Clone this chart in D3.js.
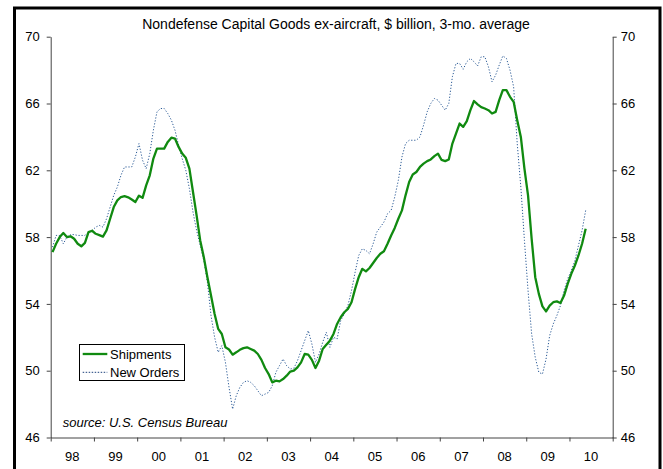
<!DOCTYPE html>
<html>
<head>
<meta charset="utf-8">
<script src="https://cdn.jsdelivr.net/npm/d3@7"></script>
<style>
  body { margin: 0; background: #fff; }
  svg { display: block; font-family: "Liberation Sans", Arial, sans-serif; }
</style>
</head>
<body>
<svg id="chart" width="663" height="469"></svg>
<script>
"use strict";

//Monthly series, Jan 1998 .. May 2010 ($ billion, 3-mo. average)
var startYear = 1998;

var shipments = [
  57.1, 57.6, 58.0, 58.24, 58.0, 58.05, 57.9, 57.6, 57.45, 57.65, 58.3, 58.38,
  58.2, 58.12, 58.03, 58.4, 59.1, 59.8, 60.2, 60.4, 60.45, 60.38, 60.25, 60.1,
  60.48, 60.35, 61.1, 61.7, 62.7, 63.3, 63.3, 63.3, 63.7, 63.95, 63.9, 63.4,
  63.0, 62.75, 62.1, 60.7, 59.3, 57.8, 56.8, 55.6, 54.5, 53.4, 52.5, 52.2,
  51.4, 51.27, 50.96, 51.1, 51.25, 51.35, 51.4, 51.3, 51.2, 51.0, 50.65, 50.16,
  49.8, 49.3, 49.4, 49.36, 49.5, 49.7, 49.95, 50.0, 50.2, 50.5, 51.0, 50.96,
  50.65, 50.16, 50.6, 51.3, 51.55, 51.8, 52.2, 52.8, 53.2, 53.5, 53.7, 54.1,
  54.9, 55.6, 56.1, 55.95, 56.15, 56.45, 56.75, 57.0, 57.15, 57.6, 58.1, 58.55,
  59.1, 59.6, 60.5, 61.3, 61.75, 61.9, 62.2, 62.4, 62.55, 62.65, 62.85, 63.0,
  62.62, 62.55, 62.65, 63.6, 64.2, 64.8, 64.6, 64.95, 65.6, 66.15, 65.95, 65.78,
  65.7, 65.6, 65.4, 65.5, 66.2, 66.8, 66.8, 66.4, 66.1, 65.0, 64.0, 62.1,
  60.5, 57.9, 55.6, 54.6, 53.85, 53.55, 53.9, 54.1, 54.15, 54.05, 54.5, 55.2,
  55.8, 56.3, 56.9, 57.6, 58.5
];

var newOrders = [
  57.4, 58.1, 58.1, 57.6, 58.0, 58.15, 58.15, 58.1, 58.1, 58.1, 58.3, 58.4,
  58.6, 58.7, 58.6, 59.1, 59.8, 60.5, 61.0, 61.7, 62.2, 62.2, 62.2, 62.8,
  63.6, 62.6, 62.1, 63.0, 64.4, 65.5, 65.7, 65.7, 65.4, 65.0, 64.4, 63.5,
  62.7, 62.0, 60.9, 59.5, 58.4, 57.5, 56.6, 55.3, 53.3, 52.0, 51.1, 51.5,
  50.5, 49.0, 47.7, 48.5, 49.0, 49.3, 49.4, 49.3, 49.1, 48.8, 48.5, 48.6,
  48.7, 49.1, 49.9, 50.3, 50.7, 50.3, 50.1, 50.15, 50.6, 51.2, 51.8, 52.4,
  51.6, 50.5, 51.0, 51.7, 52.3, 51.4, 52.0, 51.9, 53.0, 53.4, 53.9, 54.8,
  55.9, 56.9, 57.3, 57.2, 57.0, 57.6, 58.3, 58.6, 58.9, 59.4, 59.6, 60.4,
  61.4, 62.8, 63.6, 63.8, 63.8, 63.8, 64.0, 64.7, 65.5, 66.0, 66.3, 66.2,
  65.9, 65.6, 66.0, 67.6, 68.4, 68.4, 68.05, 68.5, 68.7, 68.5, 68.25, 68.8,
  68.8, 68.2, 67.3, 67.7, 68.3, 68.85, 68.7, 68.0, 67.0, 63.6, 61.0, 57.8,
  54.8, 52.2, 50.8, 49.9, 49.8, 50.7, 52.1, 52.8, 53.3, 53.9, 54.8, 55.5,
  56.0, 56.6, 57.5, 58.4, 59.6
];

var yearTicks = d3.range(1998, 2012);
var yearLabels = ["98", "99", "00", "01", "02", "03", "04", "05", "06", "07", "08", "09", "10"];
var valueTicks = [46, 50, 54, 58, 62, 66, 70];

var svg = d3.select("#chart");

//Plot area edges
var plotLeft = 50.7, plotRight = 612.7, plotTop = 36.7, plotBottom = 437.5;

var x = d3.scaleLinear().domain([1998, 2011]).range([plotLeft, plotRight]);
var y = d3.scaleLinear().domain([46, 70]).range([plotBottom, plotTop]);

//Month index -> mid-month position
function monthDate(i) { return startYear + (i + 0.5) / 12; }

//Outer frame
svg.append("rect")
  .attr("x", 14.5).attr("y", 8)
  .attr("width", 645.5).attr("height", 480)
  .attr("fill", "none")
  .attr("stroke", "#000")
  .attr("stroke-width", 3);

//Title
svg.append("text")
  .attr("x", 336).attr("y", 29)
  .attr("text-anchor", "middle")
  .attr("font-size", "14px")
  .attr("fill", "#000")
  .text("Nondefense Capital Goods ex-aircraft, $ billion, 3-mo. average");

//Axes
function styleAxis(g) {
  g.select(".domain").attr("stroke", "#444");
  g.selectAll(".tick line").attr("stroke", "#444");
  g.selectAll(".tick text").attr("fill", "#000").attr("font-size", "13px")
    .attr("font-family", "Liberation Sans, Arial, sans-serif");
}

svg.append("g")
  .attr("transform", "translate(" + plotLeft + ",0)")
  .call(d3.axisLeft(y).tickValues(valueTicks).tickSize(4).tickPadding(7).tickSizeOuter(0))
  .call(styleAxis);

svg.append("g")
  .attr("transform", "translate(" + plotRight + ",0)")
  .call(d3.axisRight(y).tickValues(valueTicks).tickSize(4).tickPadding(4).tickSizeOuter(0))
  .call(styleAxis);

svg.append("g")
  .attr("transform", "translate(0," + plotBottom + ")")
  .call(d3.axisBottom(x).tickValues(yearTicks).tickSize(4).tickFormat("").tickSizeOuter(0))
  .call(styleAxis);

svg.append("g").selectAll("text")
  .data(yearLabels)
  .enter().append("text")
  .attr("x", function(d, i) { return x(1998 + i + 0.5); })
  .attr("y", 461)
  .attr("text-anchor", "middle")
  .attr("font-size", "13px")
  .attr("fill", "#000")
  .text(function(d) { return d; });

//Lines
var line = d3.line()
  .x(function(d, i) { return x(monthDate(i)); })
  .y(function(d) { return y(d); });

svg.append("path")
  .datum(newOrders)
  .attr("d", line)
  .attr("fill", "none")
  .attr("stroke", "#2a5a96")
  .attr("stroke-width", 1)
  .attr("stroke-dasharray", "1.2,1.8");

svg.append("path")
  .datum(shipments)
  .attr("d", line)
  .attr("fill", "none")
  .attr("stroke", "#108a10")
  .attr("stroke-width", 2.3)
  .attr("stroke-linejoin", "round");

//Legend
var legend = svg.append("g");
legend.append("rect")
  .attr("x", 79.5).attr("y", 344.5)
  .attr("width", 105).attr("height", 36)
  .attr("fill", "#fff").attr("stroke", "#000").attr("stroke-width", 1);
legend.append("line")
  .attr("x1", 82.7).attr("x2", 107.3).attr("y1", 354).attr("y2", 354)
  .attr("stroke", "#108a10").attr("stroke-width", 2.3);
legend.append("line")
  .attr("x1", 82.7).attr("x2", 107.3).attr("y1", 372.3).attr("y2", 372.3)
  .attr("stroke", "#1a3f7a").attr("stroke-width", 1).attr("stroke-dasharray", "1.5,1.5");
legend.append("text")
  .attr("x", 110).attr("y", 358.5).attr("font-size", "13px").text("Shipments");
legend.append("text")
  .attr("x", 110).attr("y", 377).attr("font-size", "13px").text("New Orders");

//Source note
svg.append("text")
  .attr("x", 62.7).attr("y", 427)
  .attr("font-size", "13px")
  .attr("font-style", "italic")
  .text("source: U.S. Census Bureau");
</script>
</body>
</html>
